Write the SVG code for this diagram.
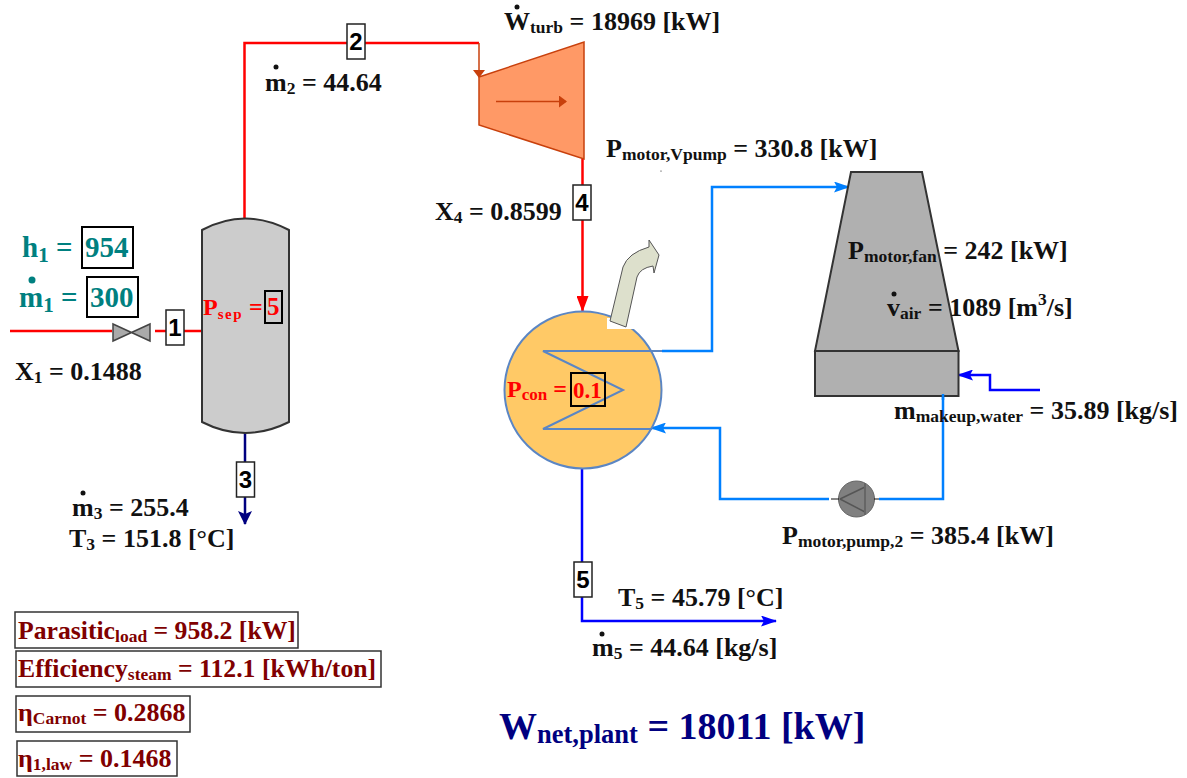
<svg xmlns="http://www.w3.org/2000/svg" width="1187" height="778" viewBox="0 0 1187 778">
<style>
text{font-family:"Liberation Serif","Times New Roman",serif;font-weight:bold;fill:#111}
.l{font-size:26px}
.s{font-size:17.500px}
.q{font-size:25.700px}
.t{fill:#008080}
.r{fill:#ff0000}
.m{fill:#800000}
.n{font-family:"Liberation Sans",Arial,sans-serif;font-size:24px;fill:#000;text-anchor:middle}
.box{fill:#fff;stroke:#222;stroke-width:1.500}
.vb{fill:none;stroke:#000;stroke-width:2}
.mb{fill:#fff;stroke:#333;stroke-width:1.500}
.c{fill:none;stroke-width:2.500}
.red{stroke:#ff0000}.blu{stroke:#0080ff}.dbl{stroke:#0000ff}
.d{fill:#111}
</style>
<defs>
<marker id="ar" markerUnits="userSpaceOnUse" markerWidth="16" markerHeight="12" refX="15" refY="6" orient="auto"><path d="M0 0L16 6L0 12z" fill="#ff0000"/></marker>
<marker id="ab" markerUnits="userSpaceOnUse" markerWidth="16" markerHeight="11" refX="15" refY="5.500" orient="auto"><path d="M0 0L16 5.500L0 11L3 5.500z" fill="#0080ff"/></marker>
<marker id="ad" markerUnits="userSpaceOnUse" markerWidth="16" markerHeight="11" refX="15" refY="5.500" orient="auto"><path d="M0 0L16 5.500L0 11L3 5.500z" fill="#0000ff"/></marker>
<marker id="an" markerUnits="userSpaceOnUse" markerWidth="14" markerHeight="14" refX="13" refY="7" orient="auto"><path d="M0 0L14 7L0 14L3 7z" fill="#000080"/></marker>
<marker id="ao" markerUnits="userSpaceOnUse" markerWidth="8" markerHeight="12" refX="7" refY="6" orient="auto"><path d="M0 0L8 6L0 12z" fill="#c8400c"/></marker>
</defs>

<g id="connectors">
<path class="c red" d="M10 331H112"/>
<path class="c red" d="M155 331H166M184 331H202"/>
<path class="c red" d="M244.500 219V43H479"/>
<path d="M479 43V77" fill="none" stroke="#c8400c" stroke-width="1.500" marker-end="url(#ao)"/>
<path class="c red" d="M582.500 159V311" marker-end="url(#ar)"/>
<path class="c blu" d="M662 351H712V187H849" marker-end="url(#ab)"/>
<path class="c blu" d="M829 499H720V428H651" marker-end="url(#ab)"/>
<path class="c blu" d="M879 499H943V396"/>
<path class="c dbl" d="M1040 390H990V375H958" marker-end="url(#ad)"/>
<path d="M245 433V524" fill="none" stroke="#000080" stroke-width="2.500" marker-end="url(#an)"/>
<path class="c dbl" d="M582 467V621H776" marker-end="url(#ad)"/>
</g>

<g id="separator">
<path d="M202 230Q245 207 289 230V422Q245 444 202 422Z" fill="#cccccc" stroke="#333" stroke-width="2"/>
</g>
<g id="valve">
<path d="M113 324L150 341V324L113 341Z" fill="#aaaaaa" stroke="#444" stroke-width="1.500"/>
</g>
<g id="turbine">
<path d="M479 77L584 42V159L479 125Z" fill="#ff9966" stroke="#c8400c" stroke-width="1.500"/>
<path d="M496 101.500H566" fill="none" stroke="#c8400c" stroke-width="1.500" marker-end="url(#ao)"/>
</g>
<g id="condenser">
<circle cx="583" cy="390" r="78.500" fill="#ffc966" stroke="#5b86c4" stroke-width="2"/>
<path d="M662 351H543L623 390L543 429H652" fill="none" stroke="#5b86c4" stroke-width="2"/>
</g>
<g id="exhaust">
<rect x="607" y="318" width="27" height="11" fill="#fff"/>
<path d="M610 321L623 267Q628 253 649 247L649 240L659 255L654 273L653 266Q640 268 637 277L626 327Z" fill="#dde0cc" stroke="#555" stroke-width="1"/>
</g>
<g id="tower">
<path d="M851 172H922L958.500 351H815Z" fill="#b0b0b0" stroke="#333" stroke-width="2"/>
<rect x="815" y="351" width="143.500" height="45" fill="#b0b0b0" stroke="#333" stroke-width="2"/>
</g>
<path d="M943 394V400" stroke="#0080ff" stroke-width="2.500"/>
<g id="pump">
<circle cx="856.500" cy="499" r="18" fill="#808080" stroke="#666" stroke-width="1"/>
<path d="M840 499L865 487M840 499L865 512" fill="none" stroke="#555" stroke-width="1.500"/>
<path d="M865 483V515" fill="none" stroke="#666" stroke-width="2"/>
<path d="M831 499H839M874 499H879" stroke="#111" stroke-width="1"/>
</g>

<g id="state1"><rect class="box" x="166" y="310" width="18" height="35"/><text class="n" x="175" y="336">1</text></g>
<g id="state2"><rect class="box" x="347" y="24" width="18" height="35"/><text class="n" x="356" y="50">2</text></g>
<g id="state3"><rect class="box" x="236.500" y="462" width="18" height="35"/><text class="n" x="245.500" y="488">3</text></g>
<g id="state4"><rect class="box" x="573" y="185" width="18" height="35"/><text class="n" x="582" y="211">4</text></g>
<g id="state5"><rect class="box" x="574" y="562" width="18" height="35"/><text class="n" x="583" y="588">5</text></g>

<g id="inputs">
<text x="22" y="257" class="t"><tspan style="font-size:29px">h</tspan><tspan style="font-size:21px" dy="5">1</tspan><tspan style="font-size:29px" dy="-5"> =</tspan></text>
<rect class="vb" x="82" y="227" width="51" height="41"/>
<text x="85" y="257" class="t" style="font-size:29px">954</text>
<circle cx="32" cy="280" r="3.500" fill="#008080"/>
<text x="19" y="307" class="t"><tspan style="font-size:29px">m</tspan><tspan style="font-size:21px" dy="5">1</tspan><tspan style="font-size:29px" dy="-5"> =</tspan></text>
<rect class="vb" x="87" y="277" width="51" height="40"/>
<text x="90" y="307" class="t" style="font-size:29px">300</text>
<text x="15" y="380" class="l">X<tspan class="s" dy="3">1</tspan><tspan dy="-3"> = 0.1488</tspan></text>
<text x="203" y="315" class="r" style="font-size:24px">P<tspan style="font-size:15px;letter-spacing:1.500px" dy="4">sep</tspan><tspan dy="-4" x="249">=</tspan></text>
<rect x="265" y="291" width="17" height="32" fill="none" stroke="#000" stroke-width="2"/>
<text x="267" y="315" class="r" style="font-size:25px">5</text>
</g>

<g id="values">
<circle class="d" cx="276" cy="67" r="2.500"/>
<text x="265" y="91" class="l">m<tspan class="s" dy="3">2</tspan><tspan dy="-3"> = 44.64</tspan></text>
<circle class="d" cx="517" cy="7" r="2.500"/>
<text x="504" y="30" class="l">W<tspan class="s" dy="3">turb</tspan><tspan dy="-3"> = 18969 [kW]</tspan></text>
<text x="606" y="157" class="l">P<tspan class="s" dy="3">motor,Vpump</tspan><tspan dy="-3"> = 330.8 [kW]</tspan></text>
<circle class="d" cx="661" cy="171" r="0.600"/>
<text x="435" y="220" class="l">X<tspan class="s" dy="3">4</tspan><tspan dy="-3"> = 0.8599</tspan></text>
<text x="848" y="259" class="l">P<tspan class="s" dy="3">motor,fan</tspan><tspan dy="-3"> = 242 [kW]</tspan></text>
<circle class="d" cx="894" cy="294" r="2.500"/>
<text x="887" y="316" class="l">v<tspan class="s" dy="3">air</tspan><tspan dy="-3"> = 1089 [m</tspan><tspan class="s" dy="-11">3</tspan><tspan dy="11">/s]</tspan></text>
<text x="894" y="419" class="l">m<tspan class="s" dy="3">makeup,water</tspan><tspan dy="-3"> = 35.89 [kg/s]</tspan></text>
<text x="782" y="544" class="l">P<tspan class="s" dy="3">motor,pump,2</tspan><tspan dy="-3"> = 385.4 [kW]</tspan></text>
<text x="618" y="606" class="l">T<tspan class="s" dy="3">5</tspan><tspan dy="-3"> = 45.79 [°C]</tspan></text>
<circle class="d" cx="602" cy="634" r="2.500"/>
<text x="592" y="656" class="l">m<tspan class="s" dy="3">5</tspan><tspan dy="-3"> = 44.64 [kg/s]</tspan></text>
<circle class="d" cx="83" cy="493" r="2.500"/>
<text x="72" y="516" class="l">m<tspan class="s" dy="3">3</tspan><tspan dy="-3"> = 255.4</tspan></text>
<text x="69" y="547" class="l">T<tspan class="s" dy="3">3</tspan><tspan dy="-3"> = 151.8 [°C]</tspan></text>
<text x="507" y="397" class="r" style="font-size:24px">P<tspan style="font-size:17px" dy="3">con</tspan><tspan dy="-3"> =</tspan></text>
<rect x="571" y="373" width="34" height="33" fill="none" stroke="#000" stroke-width="2"/>
<text x="573" y="398" class="r" style="font-size:23px">0.1</text>
</g>

<g id="results">
<rect class="mb" x="15" y="612" width="283" height="36"/>
<text x="18" y="639" class="q m">Parasitic<tspan class="s m" dy="3">load</tspan><tspan dy="-3"> = 958.2 [kW]</tspan></text>
<rect class="mb" x="16" y="651" width="365" height="36"/>
<text x="18" y="677" class="q m">Efficiency<tspan class="s m" dy="3">steam</tspan><tspan dy="-3"> = 112.1 [kWh/ton]</tspan></text>
<rect class="mb" x="16" y="696" width="174" height="36"/>
<text x="18" y="721" class="l m">η<tspan class="s m" dy="3">Carnot</tspan><tspan dy="-3"> = 0.2868</tspan></text>
<rect class="mb" x="17" y="741" width="160" height="35"/>
<text x="18" y="767" class="l m">η<tspan class="s m" dy="3">1,law</tspan><tspan dy="-3"> = 0.1468</tspan></text>
</g>
<text id="wnet" x="499" y="739" style="font-size:38px;fill:#000080">W<tspan style="font-size:26.500px" dy="4">net,plant</tspan><tspan dy="-4"> = 18011 [kW]</tspan></text>
</svg>
